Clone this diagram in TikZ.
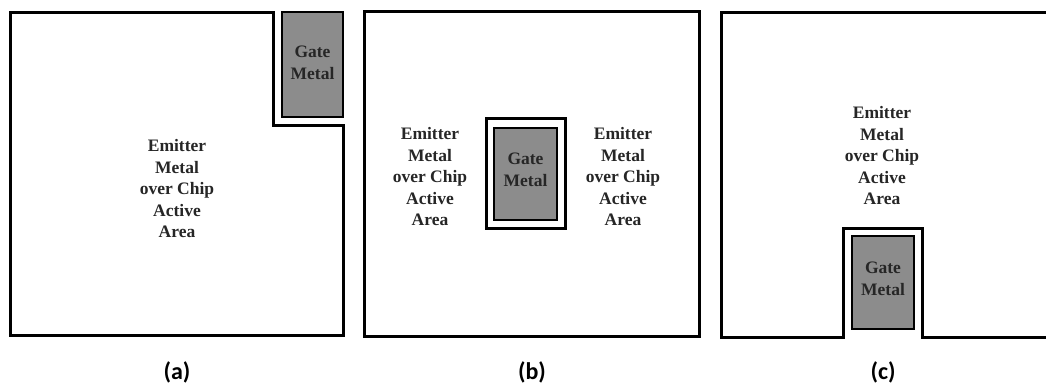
\documentclass[tikz,border=0pt]{standalone}
\usepackage{fontspec}
\setmainfont{Liberation Serif}
\newfontfamily\labfont{Carlito}
\definecolor{gatefill}{RGB}{140,140,140}
\begin{document}
\begin{tikzpicture}[x=1pt,y=-1pt,
  frame/.style={draw=black,line width=3pt,line join=miter},
  gatebox/.style={draw=black,line width=2.4pt,fill=gatefill},
  gateframe/.style={draw=black,line width=3pt},
  txt/.style={font=\fontsize{17.5}{21.5}\selectfont\bfseries,align=center,inner sep=0pt,text=black!85},
  sublabel/.style={font=\labfont\fontsize{24}{28}\selectfont\bfseries,inner sep=0pt}]
\useasboundingbox (0,0) rectangle (1046,385);
\fill[white] (0,0) rectangle (1046,385);
% (a)
\draw[frame] (10,13) -- (273,13) -- (273,126) -- (343,126) -- (343,335) -- (10,335) -- cycle;
\draw[gatebox] (282,12) rectangle (343,117);
\node[txt] (ga) at (312.5,63) {Gate\\Metal};
\node[txt] (ea) at (177,189) {Emitter\\Metal\\over Chip\\Active\\Area};
\node[sublabel] (la) at (177,372) {(a)};
% (b)
\draw[frame] (364,12) rectangle (699,336);
\draw[gateframe] (486,119) rectangle (565,228);
\draw[gatebox] (494,128) rectangle (557,220);
\node[txt] (gb) at (525.5,170) {Gate\\Metal};
\node[txt] (eb1) at (430,177) {Emitter\\Metal\\over Chip\\Active\\Area};
\node[txt] (eb2) at (623,177) {Emitter\\Metal\\over Chip\\Active\\Area};
\node[sublabel] (lb) at (532,372) {(b)};
% (c)
\draw[frame] (1050,13) -- (721,13) -- (721,337) -- (843,337) -- (843,228) -- (922,228) -- (922,337) -- (1050,337);
\draw[gatebox] (852,236) rectangle (914,329);
\node[txt] (gc) at (883,279) {Gate\\Metal};
\node[txt] (ec) at (882,156) {Emitter\\Metal\\over Chip\\Active\\Area};
\node[sublabel] (lc) at (883,372) {(c)};
\end{tikzpicture}
\end{document}
